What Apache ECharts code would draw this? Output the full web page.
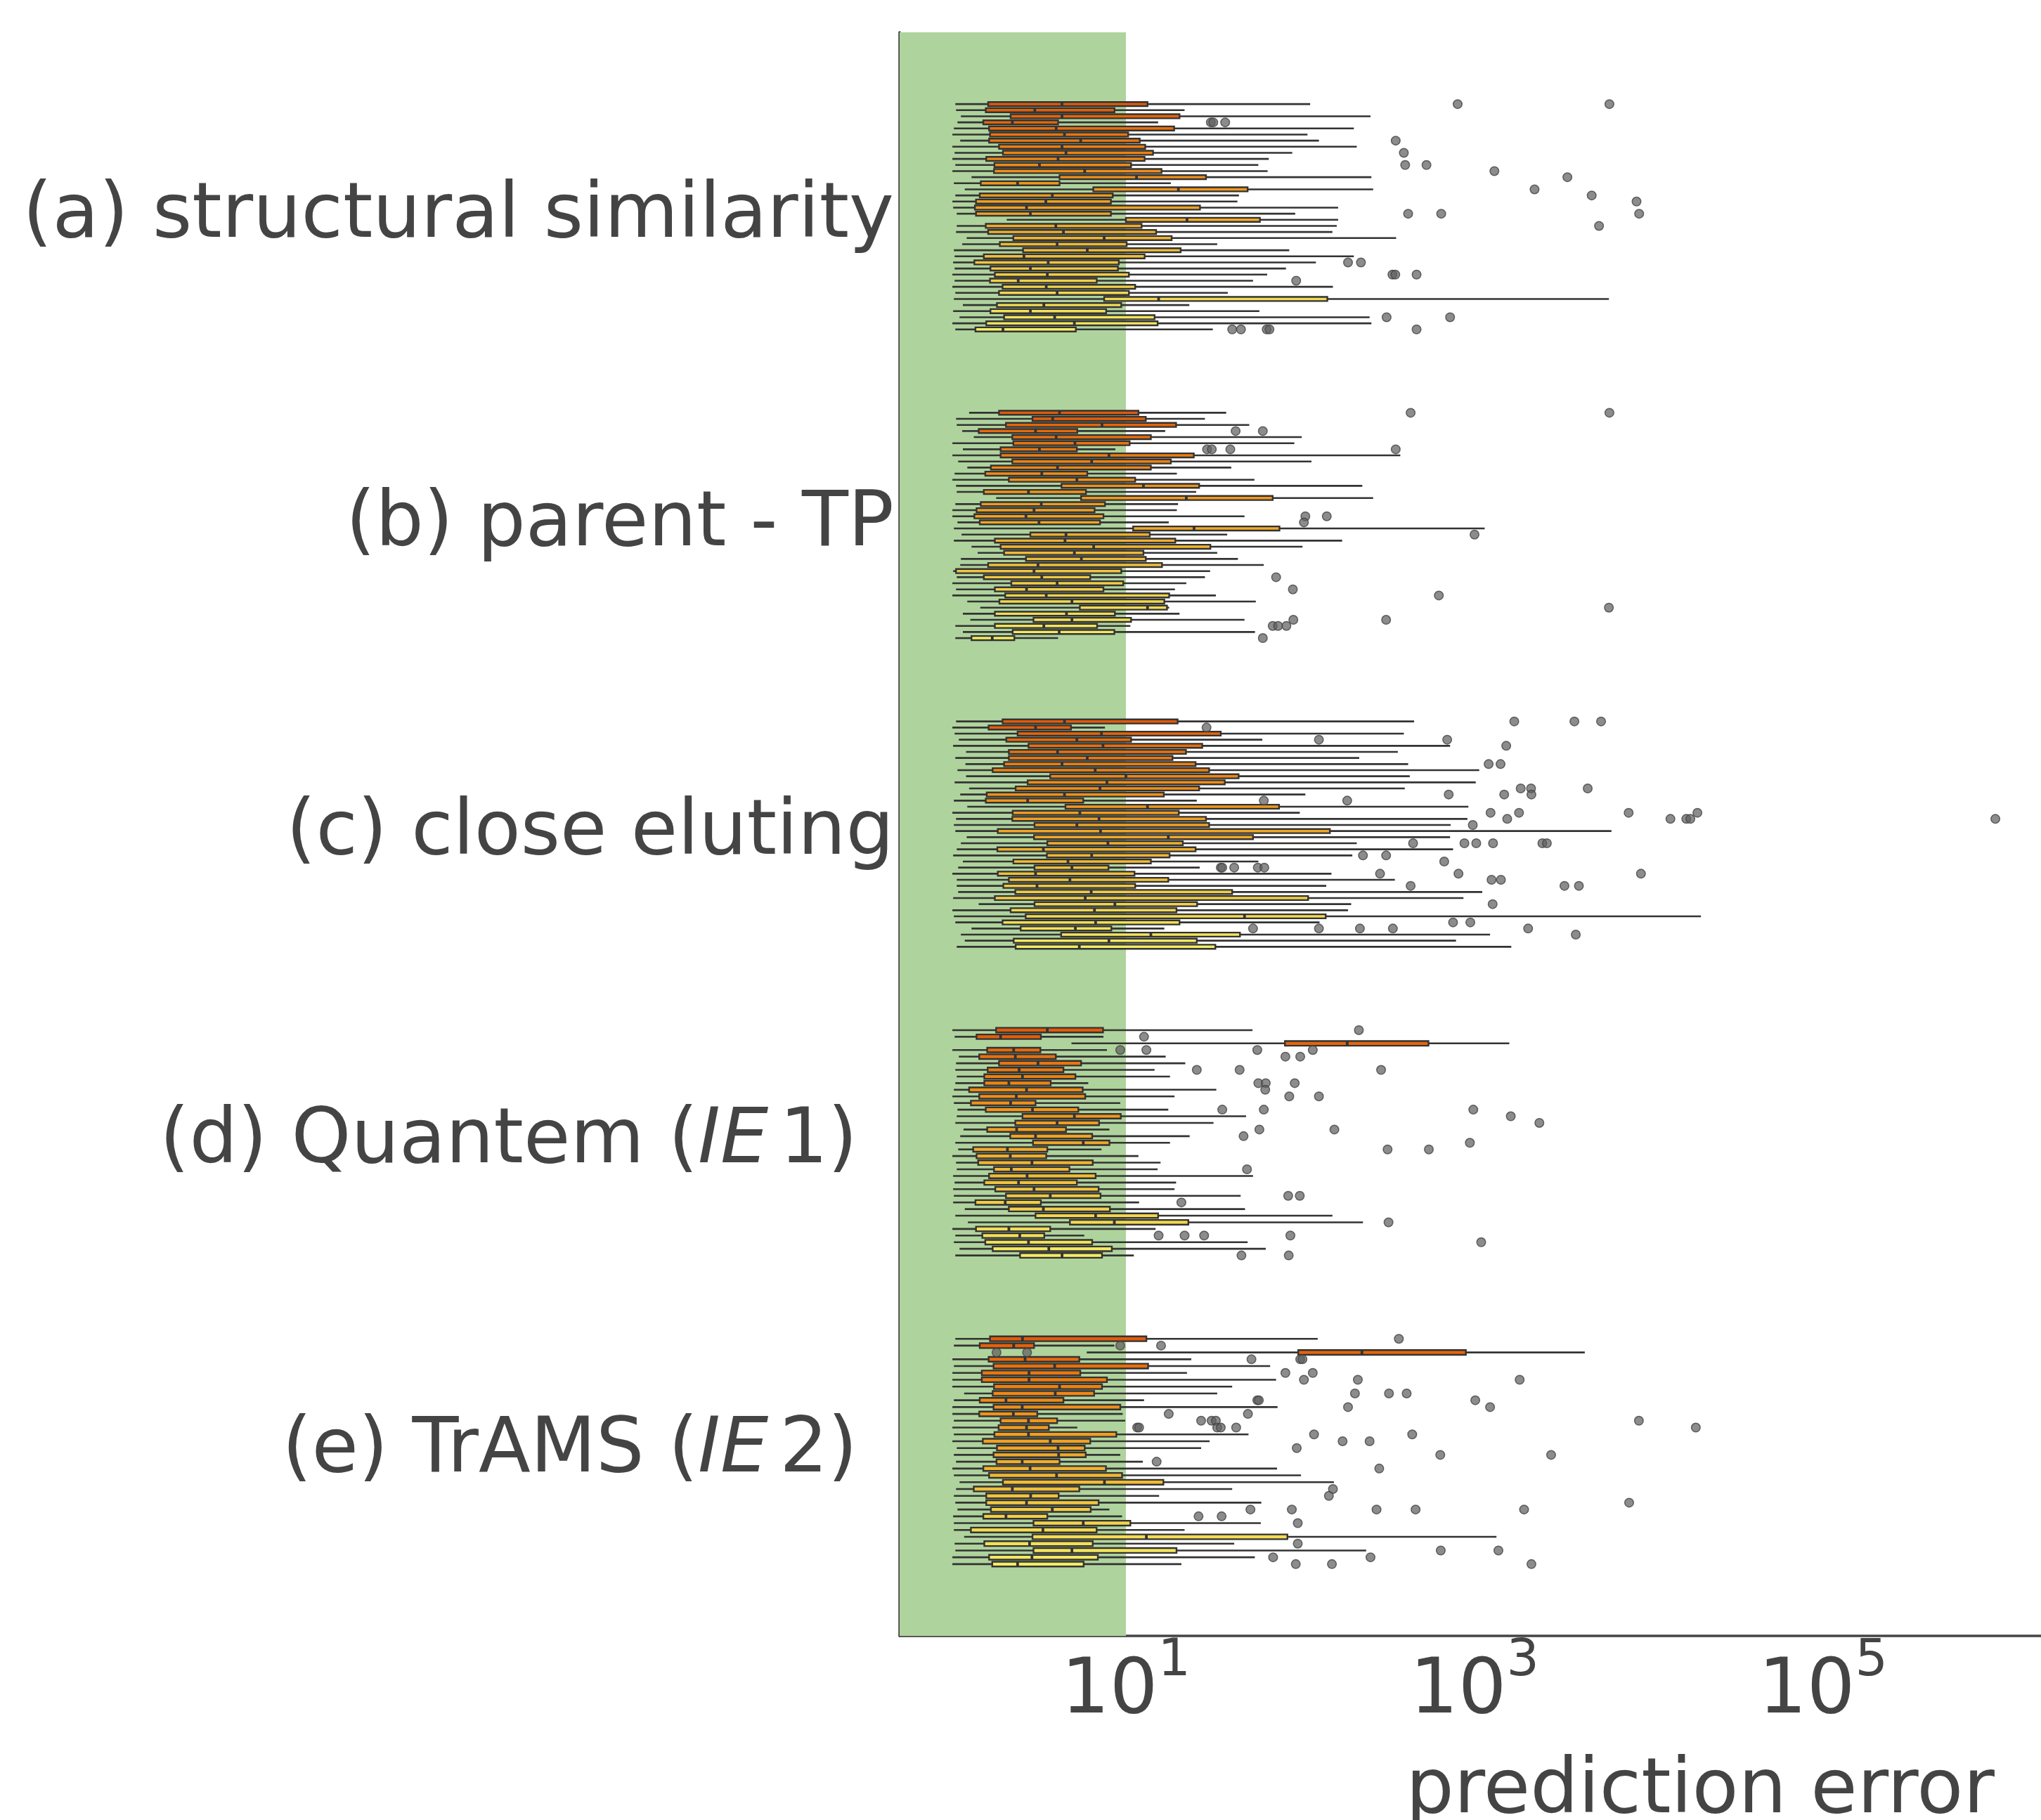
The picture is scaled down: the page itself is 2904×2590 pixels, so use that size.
<!DOCTYPE html>
<html><head><meta charset="utf-8">
<script src="https://cdn.jsdelivr.net/npm/echarts@6/dist/echarts.min.js"></script>
<style>html,body{margin:0;padding:0;background:#fff}#c{width:2904px;height:2590px}</style>
</head><body><div id="c"></div>
<script>
// ---------------- DATA ----------------
const categories = ['(a) structural similarity', '(b) parent - TP', '(c) close eluting', '(d) Quantem (IE1)', '(e) TrAMS (IE2)'];
const xTickValues = [10, 1000, 100000];
const greenLimit = 10;

// each box: [whisker low, Q1, median, Q3, whisker high]
const boxesA = [
[1.05,1.62,4.3,13.3,114],[1.06,1.57,3.0,8.6,21.7],[1.13,2.18,4.3,20.3,253],[1.08,1.52,2.23,4.08,15.3],
[1.03,1.64,3.98,18.9,203],[1.01,1.66,4.44,10.3,110],[1.12,1.64,5.5,12.0,128],[1.01,1.87,4.3,12.9,211],
[1.04,1.97,4.53,14.3,90],[1.01,1.58,4.08,12.8,66],[1.05,1.76,3.19,10.7,57.5],[1.01,1.75,5.8,16.0,65],
[1.30,4.16,11.5,28.8,256],[1.03,1.47,2.39,4.16,18.1],[1.19,6.5,20.0,49.9,262],[1.05,1.45,3.78,8.4,44.5],
[1.01,1.38,3.47,8.2,43.6],[1.02,1.36,2.69,26.6,165],[1.07,1.38,2.83,8.2,93.6],[2.07,10.0,22.4,58.7,165],
[1.07,1.57,3.96,12.3,162],[1.06,1.62,4.38,14.9,153],[1.22,2.26,7.5,18.3,355],[1.15,1.89,4.03,10.1,33.4],
[1.03,2.57,6.0,20.6,86.5],[1.04,1.53,2.6,12.8,203],[1.02,1.35,3.58,9.1,123],[1.04,1.67,2.83,9.0,82.8],
[1.01,1.77,3.54,10.4,64.6],[1.04,1.66,2.41,6.8,53.6],[1.01,1.96,3.49,11.3,154],[1.05,1.87,4.03,10.4,38.4],
[1.03,7.5,15.4,143,5900],[1.16,1.82,3.38,9.4,23.1],[1.02,1.67,2.83,7.7,58.3],[1.11,2.0,3.9,14.6,250],
[1.01,1.58,5.06,15.2,256],[1.05,1.37,1.97,5.16,31.5]
];
const outliersA = [
[800,5940],[],[],[30.7,31.7,37.1],[],[],[353],[],[393],[],[400,530],[1300],[3410],[],[2210],[4700],[8500],[],
[416,644,8800],[],[5180],[],[],[],[],[],[188,223],[],[338,351,465],[94.8],[],[],[],[],[],[313,724],[],
[40.7,45.7,64.2,66.6,465]
];

const boxesB = [
[1.26,1.87,4.16,11.8,37.6],[1.06,2.91,3.80,13.0,28.4],[1.07,2.05,7.29,19.4,51],[1.15,1.43,3.03,5.26,16.8],
[1.34,2.23,3.98,13.9,102],[1.01,2.26,5.1,10.5,92.5],[1.16,1.91,3.19,5.23,8.7],[1.01,1.91,7.99,24.5,375],
[1.09,2.23,6.36,18.1,116],[1.23,1.68,4.05,13.9,40.2],[1.04,1.56,3.29,6.0,19.6],[1.01,2.13,5.23,11.3,54.6],
[1.06,4.27,12.6,26.3,227],[1.07,1.53,2.76,5.9,25.3],[1.80,5.53,22.2,69.5,262],[1.05,1.47,3.27,7.58,19.9],
[1.01,1.39,2.97,6.61,19.6],[1.01,1.35,2.67,7.43,47.9],[1.08,1.45,3.17,7.1,17.6],[1.03,11.0,24.6,76,1143],
[1.14,2.83,4.53,13.7,38.1],[1.03,1.77,4.47,19.2,174],[1.30,1.91,6.53,30.5,103],[1.41,2.0,5.06,12.6,33.4],
[1.13,2.67,5.55,13.0,43.9],[1.12,1.62,3.13,16.1,61.8],[1.02,1.06,2.97,9.4,30.4],[1.07,1.53,3.29,6.24,28.4],
[1.01,2.2,4.03,9.65,22.2],[1.06,1.77,2.69,7.43,19.1],[1.01,2.03,3.49,17.7,32.8],[1.23,1.88,4.90,16.6,55.6],
[1.46,5.44,13.3,17.2,17.7],[1.16,1.77,4.56,8.64,20.3],[1.28,2.95,4.90,10.7,47.9],[1.05,1.77,3.38,6.83,10.6],
[1.16,2.24,4.14,8.58,55],[1.05,1.30,1.71,2.29,4.08]
];
const outliersB = [
[430,5940],[],[],[42.6,61],[],[],[29.2,31.1,39.7,353],[],[],[],[],[],[],[],[],[],[],[107,142],[105],[],
[1000],[],[],[],[],[],[],[72.7],[],[90.7],[624],[],[5900],[],[91.3,311],[69.5,74.6,83.3],[],[61]
];

const boxesC = [
[1.06,1.96,4.44,19.8,450],[1.01,1.63,3.03,4.84,7.58],[1.04,2.39,7.24,35,393],[1.10,2.06,5.23,10.7,60.6],
[1.02,2.76,7.39,27.4,724],[1.21,2.13,4.05,22.1,363],[1.05,2.13,6.0,18.5,218],[1.2,2.0,4.3,25.1,416],
[1.08,1.72,6.66,30.0,1064],[1.21,3.68,10.0,44.3,425],[1.04,2.73,7.78,36.9,1016],[1.26,2.33,7.1,26.3,398],
[1.12,1.59,4.44,16.5,107],[1.03,1.57,2.73,5.69,25.5],[1.23,4.5,13.3,75.6,922],[1.01,2.24,5.44,20.1,99.4],
[1.06,2.23,7.01,28.8,910],[1.03,2.99,5.23,30.0,729],[1.05,1.84,7.15,148,6100],[1.22,2.97,17.5,53.6,724],
[1.13,3.54,7.88,21.2,211],[1.07,1.83,3.36,25.1,753],[1.02,3.52,6.36,17.8,199],[1.16,2.26,4.65,13.9,57.5],
[1.09,2.99,4.9,7.94,26.5],[1.01,1.84,3.03,11.2,151],[1.07,2.13,4.77,17.5,349],[1.07,1.98,3.09,11.3,141],
[1.09,2.32,6.32,40.7,1107],[1.02,1.77,5.84,111,864],[1.43,2.99,8.64,25.6,196],[1.01,2.18,6.6,19.5,188],
[1.03,2.66,47.9,140,19900],[1.05,1.96,6.7,20.3,129],[1.30,2.49,5.13,8.25,16.6],[1.13,4.25,13.9,45.1,1228],
[1.19,2.27,7.99,25.5,783],[1.07,2.33,5.4,32.6,1625]
];
const outliersC = [
[1690,3740,5320],[29],[],[128,697],[1520],[],[],[1205,1410],[],[],[],[1840,2110,4460],[711,1480,2120],
[61.8,186],[],[1236,1800,7660,19000],[1540,13300,16400,17300,973000],[977],[],[],
[444,875,1023,1277,2450,2600],[],[229,311],[670],[35,35.7,41.8,57.1,62.2],[287,809,9010],[1252,1417],
[430,3280,3970],[],[],[1270],[],[],[753,946],[53.6,128,220,340,2030],[3810],[],[]
];

const boxesD = [
[1.01,1.80,3.54,7.39,53.2],[1.04,1.39,1.91,3.25,7.43],[4.87,81.7,186,544,1583],[1.01,1.6,2.27,3.23,7.78],
[1.10,1.44,2.32,3.96,16.9],[1.06,1.87,3.13,5.53,21.9],[1.05,1.61,2.44,4.38,14.6],[1.07,1.54,2.55,5.13,17.9],
[1.05,1.54,2.13,3.7,6.08],[1.03,1.26,2.69,5.65,33],[1.01,1.44,2.35,5.84,19],[1.03,1.29,2.18,3.03,9.28],
[1.08,1.57,2.91,5.33,17.5],[1.07,2.55,5.06,9.34,48.9],[1.05,2.32,4.03,7.01,31.8],[1.17,1.6,2.36,4.53,8.04],
[1.12,2.17,3.03,6.4,23.2],[1.05,2.93,5.69,8.04,17.9],[1.09,1.33,2.09,3.54,7.24],[1.01,1.39,2.17,3.49,11.8],
[1.06,1.42,2.89,6.45,15.8],[1.07,1.75,2.2,4.74,15.2],[1.02,1.64,2.71,6.7,53.6],[1.04,1.54,2.42,5.23,19.4],
[1.02,1.78,2.97,6.97,19.0],[1.03,2.05,3.68,7.15,45.5],[1.02,1.37,2.03,3.25,11.9],[1.19,2.13,3.36,8.09,48.2],
[1.05,3.03,6.7,15.3,153],[1.24,4.77,8.58,22.8,229],[1.01,1.38,2.13,3.68,14.8],[1.05,1.5,2.46,3.4,5.77],
[1.03,1.56,2.76,6.4,49.9],[1.11,1.72,3.61,8.3,63.4],[1.05,2.47,4.3,7.29,11.1]
];
const outliersD = [
[217],[12.7],[],[9.28,13.1,56.7,118],[82.2,100],[],[25.5,44.9,291],[],[57.5,63.4,93],[63],[86.5,128],[],
[35.7,61.8,984],[1614],[2355],[58.3,157],[47.3],[940],[317,547],[],[],[49.5],[],[],[],[85.3,99.4],[20.8],
[],[],[321],[],[15.4,21.7,28.1,87.8],[1092],[],[46,85.9]
];

const boxesE = [
[1.05,1.66,2.55,13.1,126],[1.03,1.45,2.27,2.97,8.58],[5.96,97.4,226,892,4290],[1.01,1.63,2.64,5.4,23.7],
[1.03,1.74,3.9,13.4,67.2],[1.01,1.49,2.78,5.47,22.4],[1.01,1.49,2.78,7.78,72.7],[1.01,1.75,4.16,7.29,40.7],
[1.18,1.72,3.93,6.57,33.4],[1.03,1.45,2.05,4.38,12.7],[1.01,1.74,2.54,9.28,74.1],[1.01,1.44,2.26,3.1,9.58],
[1.03,1.91,2.76,4.03,9.9],[1.01,1.86,2.69,3.61,5.26],[1.03,1.76,2.76,8.81,50.5],[1.01,1.51,3.68,6.24,30.2],
[1.07,1.82,4.08,5.8,27.0],[1.03,1.74,4.11,5.88,9.28],[1.06,1.81,2.54,4.16,12.5],[1.01,1.52,2.82,7.68,73.6],
[1.03,1.64,4.0,9.5,101],[1.11,1.97,7.53,16.4,156],[1.06,1.34,2.23,5.4,40.7],[1.03,1.58,2.84,4.11,15.5],
[1.05,1.58,2.69,6.97,59.8],[1.08,1.68,3.78,6.28,8.04],[1.02,1.52,2.05,3.54,9.5],[1.03,2.95,5.69,10.6,59.4],
[1.03,1.29,3.34,6.79,21.7],[1.18,2.91,13.1,84.4,1336],[1.04,1.54,2.8,6.45,41.8],[1.05,2.95,4.9,19.5,239],
[1.01,1.64,2.89,6.9,54.9],[1.01,1.71,2.39,5.72,20.8]
];
const outliersE = [
[368],[9.28,15.9],[1.81,2.71],[52.5,100,103],[],[82.2,118],[105,214,1815],[],[206,323,408],[56.7,57.9,1010],
[188,1228],[17.6,50.1],[27,31,32.8,8770],[11.6,11.9,33.4,35,42.9,18600],[120,439],[175,250],[95.5],
[636,2750],[15.0],[284],[],[],[154],[146],[7710],[51.8,89.5,274,459,1924],[26.1,35.4],[96.8],[],[],[96.8],
[640,1371],[69.9,253],[94.3,152,2120]
];

// ---------------- LAYOUT / STYLE ----------------
const groups = [
  {boxes: boxesA, outliers: outliersA},
  {boxes: boxesB, outliers: outliersB},
  {boxes: boxesC, outliers: outliersC},
  {boxes: boxesD, outliers: outliersD},
  {boxes: boxesE, outliers: outliersE}
];
const GROUP_SPAN = 0.73;     // fraction of a category band used by a group's boxes
const BOX_FILL = 0.95;       // box thickness relative to row step
const X_MIN = 0.503, X_MAX = 1.778e6;
const Y_MIN = -0.5975, Y_MAX = 4.5975;
const FONT = 'DejaVu Sans';
const TXT = '#444';

const colorStops = [[0,[227,90,8]],[0.25,[240,136,18]],[0.5,[240,167,38]],[0.75,[242,203,66]],[1,[243,236,98]]];
function colorAt(t) {
  for (let i = 1; i < colorStops.length; i++) {
    const [t1, c1] = colorStops[i], [t0, c0] = colorStops[i-1];
    if (t <= t1) {
      const f = (t - t0) / (t1 - t0);
      const c = c0.map((v, k) => Math.round(v + (c1[k] - v) * f));
      return 'rgb(' + c.join(',') + ')';
    }
  }
  return 'rgb(243,236,98)';
}

const boxData = [], boxColors = [], outData = [];
groups.forEach((g, gi) => {
  const n = g.boxes.length;
  const step = GROUP_SPAN / (n - 1);
  g.boxes.forEach((b, j) => {
    const t = j / (n - 1);
    const y = gi + (t - 0.5) * GROUP_SPAN;
    boxData.push([b[0], b[1], b[2], b[3], b[4], y, step]);
    boxColors.push(colorAt(t));
    (g.outliers[j] || []).forEach(v => outData.push([v, y]));
  });
});

function renderBox(params, api) {
  const y = api.value(5), step = api.value(6);
  const h = step * BOX_FILL;
  const pL = api.coord([api.value(0), y]);
  const p1 = api.coord([api.value(1), y]);
  const pM = api.coord([api.value(2), y]);
  const p3 = api.coord([api.value(3), y]);
  const pH = api.coord([api.value(4), y]);
  const a = api.coord([api.value(2), y - h / 2]);
  const b = api.coord([api.value(2), y + h / 2]);
  const H = Math.abs(b[1] - a[1]) - 2.4;
  const cy = pM[1];
  const stroke = '#333';
  return {
    type: 'group',
    children: [
      {type: 'line', shape: {x1: pL[0], y1: cy, x2: p1[0], y2: cy}, style: {stroke, lineWidth: 2.6}},
      {type: 'line', shape: {x1: p3[0], y1: cy, x2: pH[0], y2: cy}, style: {stroke, lineWidth: 2.6}},
      {type: 'rect', shape: {x: p1[0], y: cy - H / 2, width: p3[0] - p1[0], height: H},
        style: {fill: boxColors[params.dataIndex], stroke, lineWidth: 2.4}},
      {type: 'line', shape: {x1: pM[0], y1: cy - H / 2, x2: pM[0], y2: cy + H / 2}, style: {stroke, lineWidth: 3.8}}
    ]
  };
}

function yLabel(v) {
  const i = Math.round(v);
  const s = categories[i];
  if (s === undefined) return '';
  const m = s.match(/^(.*\()IE(\d)\)$/);
  if (m) return '{n|' + m[1] + '}{i|IE}{m|' + m[2] + ')}';
  return '{n|' + s + '}';
}
const exps = xTickValues.map(v => Math.round(Math.log10(v)));
function xLabel(v) {
  const l = Math.log10(v);
  const e = Math.round(l);
  if (Math.abs(l - e) < 1e-6 && exps.indexOf(e) >= 0) return '{b|10}{s|' + e + '}';
  return '';
}

const chart = echarts.init(document.getElementById('c'), null, {renderer: 'canvas'});
chart.setOption({
  animation: false,
  backgroundColor: '#ffffff',
  grid: {left: 1280, right: 0, top: 46, bottom: 262, containLabel: false, outerBoundsMode: 'none'},
  xAxis: {
    type: 'log', logBase: 10, min: X_MIN, max: X_MAX, splitNumber: 10,
    axisLine: {show: true, onZero: false, lineStyle: {color: TXT, width: 3.5}},
    axisTick: {show: false}, splitLine: {show: false},
    axisLabel: {
      showMinLabel: false, showMaxLabel: false, margin: 1, formatter: xLabel,
      rich: {
        b: {fontSize: 108, fontFamily: FONT, color: TXT, lineHeight: 134, verticalAlign: 'bottom'},
        s: {fontSize: 73, fontFamily: FONT, color: TXT, lineHeight: 73, verticalAlign: 'top'}
      }
    },
    name: 'prediction error', nameLocation: 'middle', nameGap: 169,
    nameTextStyle: {fontSize: 108, fontFamily: FONT, color: TXT, padding: [0, 0, 0, 654]}
  },
  yAxis: {
    type: 'value', min: Y_MIN, max: Y_MAX, inverse: true,
    axisLine: {show: true, onZero: false, lineStyle: {color: TXT, width: 3.5}},
    axisTick: {show: false}, splitLine: {show: false},
    axisLabel: {
      customValues: [0, 1, 2, 3, 4], margin: 8, formatter: yLabel,
      rich: {
        n: {fontSize: 108, fontFamily: FONT, color: TXT},
        i: {fontSize: 108, fontFamily: FONT, color: TXT, fontStyle: 'italic', padding: [0, 16, 0, 0]},
        m: {fontSize: 108, fontFamily: FONT, color: TXT, padding: [0, 52, 0, 0]}
      }
    }
  },
  series: [
    {
      type: 'scatter', data: [], z: 1, silent: true,
      markArea: {silent: true, itemStyle: {color: '#afd39d'}, data: [[{xAxis: X_MIN}, {xAxis: greenLimit}]]}
    },
    {
      type: 'custom', z: 3, renderItem: renderBox, data: boxData,
      encode: {x: [0, 1, 2, 3, 4], y: 5}
    },
    {
      type: 'scatter', z: 4, data: outData, symbol: 'circle', symbolSize: 12.5,
      itemStyle: {color: 'rgba(95,95,95,0.9)', borderColor: '#444', borderWidth: 1.5}
    }
  ]
});
</script>
</body></html>
